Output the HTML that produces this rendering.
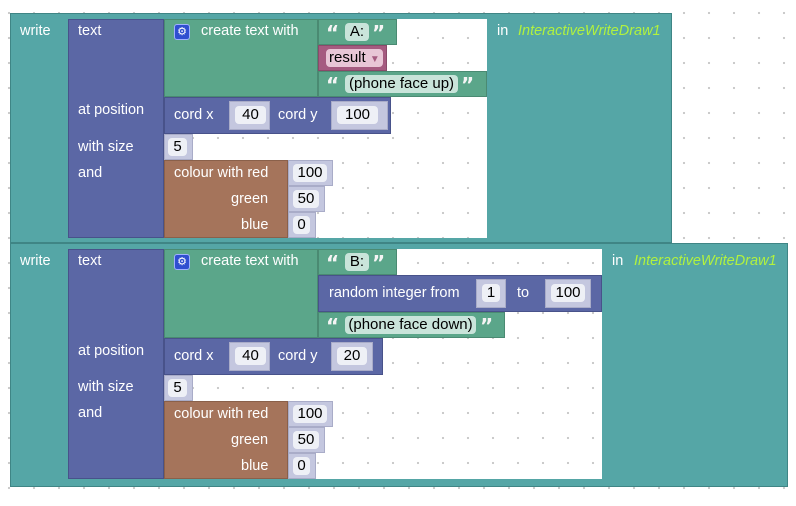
<!DOCTYPE html>
<html><head><meta charset="utf-8"><style>
html,body{margin:0;padding:0}
body{width:796px;height:506px;position:relative;overflow:hidden;background-color:#fff;
background-image:radial-gradient(circle,#c8c8c8 1px,transparent 1.3px);
background-size:25px 25px;background-position:-3.5px 0.5px;
font-family:"Liberation Sans",sans-serif;font-size:14.5px;color:#fff}
div{position:absolute;box-sizing:border-box}
.teal{background:#55a6a6;border:1px solid #3f8585}
.pur{background:#5b67a5;border:1px solid #48528a}
.grn{background:#5ba68a;border:1px solid #4a8a72}
.pink{background:#a55b80;border:1px solid #8a4a6a}
.brn{background:#a5745b;border:1px solid #8a604a}
.sh{background:#c4c7df;border:1px solid #a9acc8}
.f{background:#eef0f6;color:#000;border-radius:4px;text-align:center;height:18px;line-height:18px;font-size:15px}
.ft{background:#c9e4da;color:#000;border-radius:4px;text-align:center;height:18px;line-height:18px;font-size:15px}
.t{white-space:nowrap;line-height:16px}
.y{color:#b2f23e;font-style:italic}
.q{font-weight:bold;font-size:20px;line-height:22px;font-family:"DejaVu Sans",sans-serif;color:#f4f4f4}
</style></head><body>

<!-- BLOCK 1 -->
<div class="teal" style="left:10px;top:13px;width:662px;height:230px"></div>
<div style="left:68px;top:19px;width:419px;height:219px;background:#fff;
background-image:radial-gradient(circle,#c8c8c8 1px,transparent 1.3px);background-size:25px 25px;background-position:-62.5px -18.5px"></div>
<div class="t" style="left:20px;top:23px">write</div>
<div class="t" style="left:497px;top:23px">in</div>
<div class="t y" style="left:518px;top:23px">InteractiveWriteDraw1</div>

<div class="pur" style="left:68px;top:19px;width:96px;height:219px"></div>
<div class="t" style="left:78px;top:23px">text</div>
<div class="t" style="left:78px;top:102px">at position</div>
<div class="t" style="left:78px;top:139px">with size</div>
<div class="t" style="left:78px;top:165px">and</div>

<div class="grn" style="left:164px;top:19px;width:154px;height:78px"></div>
<div style="left:174px;top:24px;width:16px;height:16px;background:#2f4fd0;border-radius:3px;border:1px solid #9fb0ff;color:#fff;font-size:11px;text-align:center;line-height:14px">⚙</div>
<div class="t" style="left:201px;top:23px">create text with</div>

<div class="grn" style="left:318px;top:19px;width:79px;height:26px"></div>
<div class="t q" style="left:326px;top:22px">“</div>
<div class="ft" style="left:345px;top:23px;width:24px">A:</div>
<div class="t q" style="left:372px;top:22px">”</div>

<div class="pink" style="left:318px;top:45px;width:69px;height:26px"></div>
<div style="left:326px;top:49px;width:57px;height:18px;background:#e8c6d6;border-radius:4px;color:#000;line-height:18px;padding-left:3px;font-size:15px">result <span style="color:#a55b80;font-size:10px">▼</span></div>

<div class="grn" style="left:318px;top:71px;width:169px;height:26px"></div>
<div class="t q" style="left:326px;top:74px">“</div>
<div class="ft" style="left:345px;top:75px;width:113px">(phone face up)</div>
<div class="t q" style="left:461px;top:74px">”</div>

<div class="pur" style="left:164px;top:97px;width:227px;height:37px"></div>
<div class="t" style="left:174px;top:107px">cord x</div>
<div class="sh" style="left:229px;top:101px;width:41px;height:29px"></div>
<div class="f" style="left:235px;top:106px;width:31px">40</div>
<div class="t" style="left:278px;top:107px">cord y</div>
<div class="sh" style="left:331px;top:101px;width:57px;height:29px"></div>
<div class="f" style="left:337px;top:106px;width:41px">100</div>

<div class="sh" style="left:164px;top:134px;width:29px;height:26px"></div>
<div class="f" style="left:168px;top:138px;width:19px">5</div>

<div class="brn" style="left:164px;top:160px;width:124px;height:78px"></div>
<div class="t" style="left:174px;top:165px">colour with red</div>
<div class="t" style="left:231px;top:191px">green</div>
<div class="t" style="left:241px;top:217px">blue</div>
<div class="sh" style="left:288px;top:160px;width:45px;height:26px"></div>
<div class="f" style="left:293px;top:164px;width:34px">100</div>
<div class="sh" style="left:288px;top:186px;width:37px;height:26px"></div>
<div class="f" style="left:293px;top:190px;width:26px">50</div>
<div class="sh" style="left:288px;top:212px;width:28px;height:26px"></div>
<div class="f" style="left:293px;top:216px;width:17px">0</div>

<!-- BLOCK 2 -->
<div class="teal" style="left:10px;top:243px;width:778px;height:244px"></div>
<div style="left:68px;top:249px;width:534px;height:230px;background:#fff;
background-image:radial-gradient(circle,#c8c8c8 1px,transparent 1.3px);background-size:25px 25px;background-position:-62.5px 1.5px"></div>
<div class="t" style="left:20px;top:253px">write</div>
<div class="t" style="left:612px;top:253px">in</div>
<div class="t y" style="left:634px;top:253px">InteractiveWriteDraw1</div>

<div class="pur" style="left:68px;top:249px;width:96px;height:230px"></div>
<div class="t" style="left:78px;top:253px">text</div>
<div class="t" style="left:78px;top:343px">at position</div>
<div class="t" style="left:78px;top:379px">with size</div>
<div class="t" style="left:78px;top:405px">and</div>

<div class="grn" style="left:164px;top:249px;width:154px;height:89px"></div>
<div style="left:174px;top:254px;width:16px;height:16px;background:#2f4fd0;border-radius:3px;border:1px solid #9fb0ff;color:#fff;font-size:11px;text-align:center;line-height:14px">⚙</div>
<div class="t" style="left:201px;top:253px">create text with</div>

<div class="grn" style="left:318px;top:249px;width:79px;height:26px"></div>
<div class="t q" style="left:326px;top:252px">“</div>
<div class="ft" style="left:345px;top:253px;width:24px">B:</div>
<div class="t q" style="left:372px;top:252px">”</div>

<div class="pur" style="left:318px;top:275px;width:284px;height:37px"></div>
<div class="t" style="left:329px;top:285px">random integer from</div>
<div class="sh" style="left:476px;top:279px;width:30px;height:29px"></div>
<div class="f" style="left:482px;top:284px;width:18px">1</div>
<div class="t" style="left:517px;top:285px">to</div>
<div class="sh" style="left:545px;top:279px;width:46px;height:29px"></div>
<div class="f" style="left:551px;top:284px;width:34px">100</div>

<div class="grn" style="left:318px;top:312px;width:187px;height:26px"></div>
<div class="t q" style="left:326px;top:315px">“</div>
<div class="ft" style="left:345px;top:316px;width:131px">(phone face down)</div>
<div class="t q" style="left:480px;top:315px">”</div>

<div class="pur" style="left:164px;top:338px;width:219px;height:37px"></div>
<div class="t" style="left:174px;top:348px">cord x</div>
<div class="sh" style="left:229px;top:342px;width:41px;height:29px"></div>
<div class="f" style="left:235px;top:347px;width:31px">40</div>
<div class="t" style="left:278px;top:348px">cord y</div>
<div class="sh" style="left:331px;top:342px;width:42px;height:29px"></div>
<div class="f" style="left:337px;top:347px;width:30px">20</div>

<div class="sh" style="left:164px;top:375px;width:29px;height:26px"></div>
<div class="f" style="left:168px;top:379px;width:19px">5</div>

<div class="brn" style="left:164px;top:401px;width:124px;height:78px"></div>
<div class="t" style="left:174px;top:406px">colour with red</div>
<div class="t" style="left:231px;top:432px">green</div>
<div class="t" style="left:241px;top:458px">blue</div>
<div class="sh" style="left:288px;top:401px;width:45px;height:26px"></div>
<div class="f" style="left:293px;top:405px;width:34px">100</div>
<div class="sh" style="left:288px;top:427px;width:37px;height:26px"></div>
<div class="f" style="left:293px;top:431px;width:26px">50</div>
<div class="sh" style="left:288px;top:453px;width:28px;height:26px"></div>
<div class="f" style="left:293px;top:457px;width:17px">0</div>

</body></html>
